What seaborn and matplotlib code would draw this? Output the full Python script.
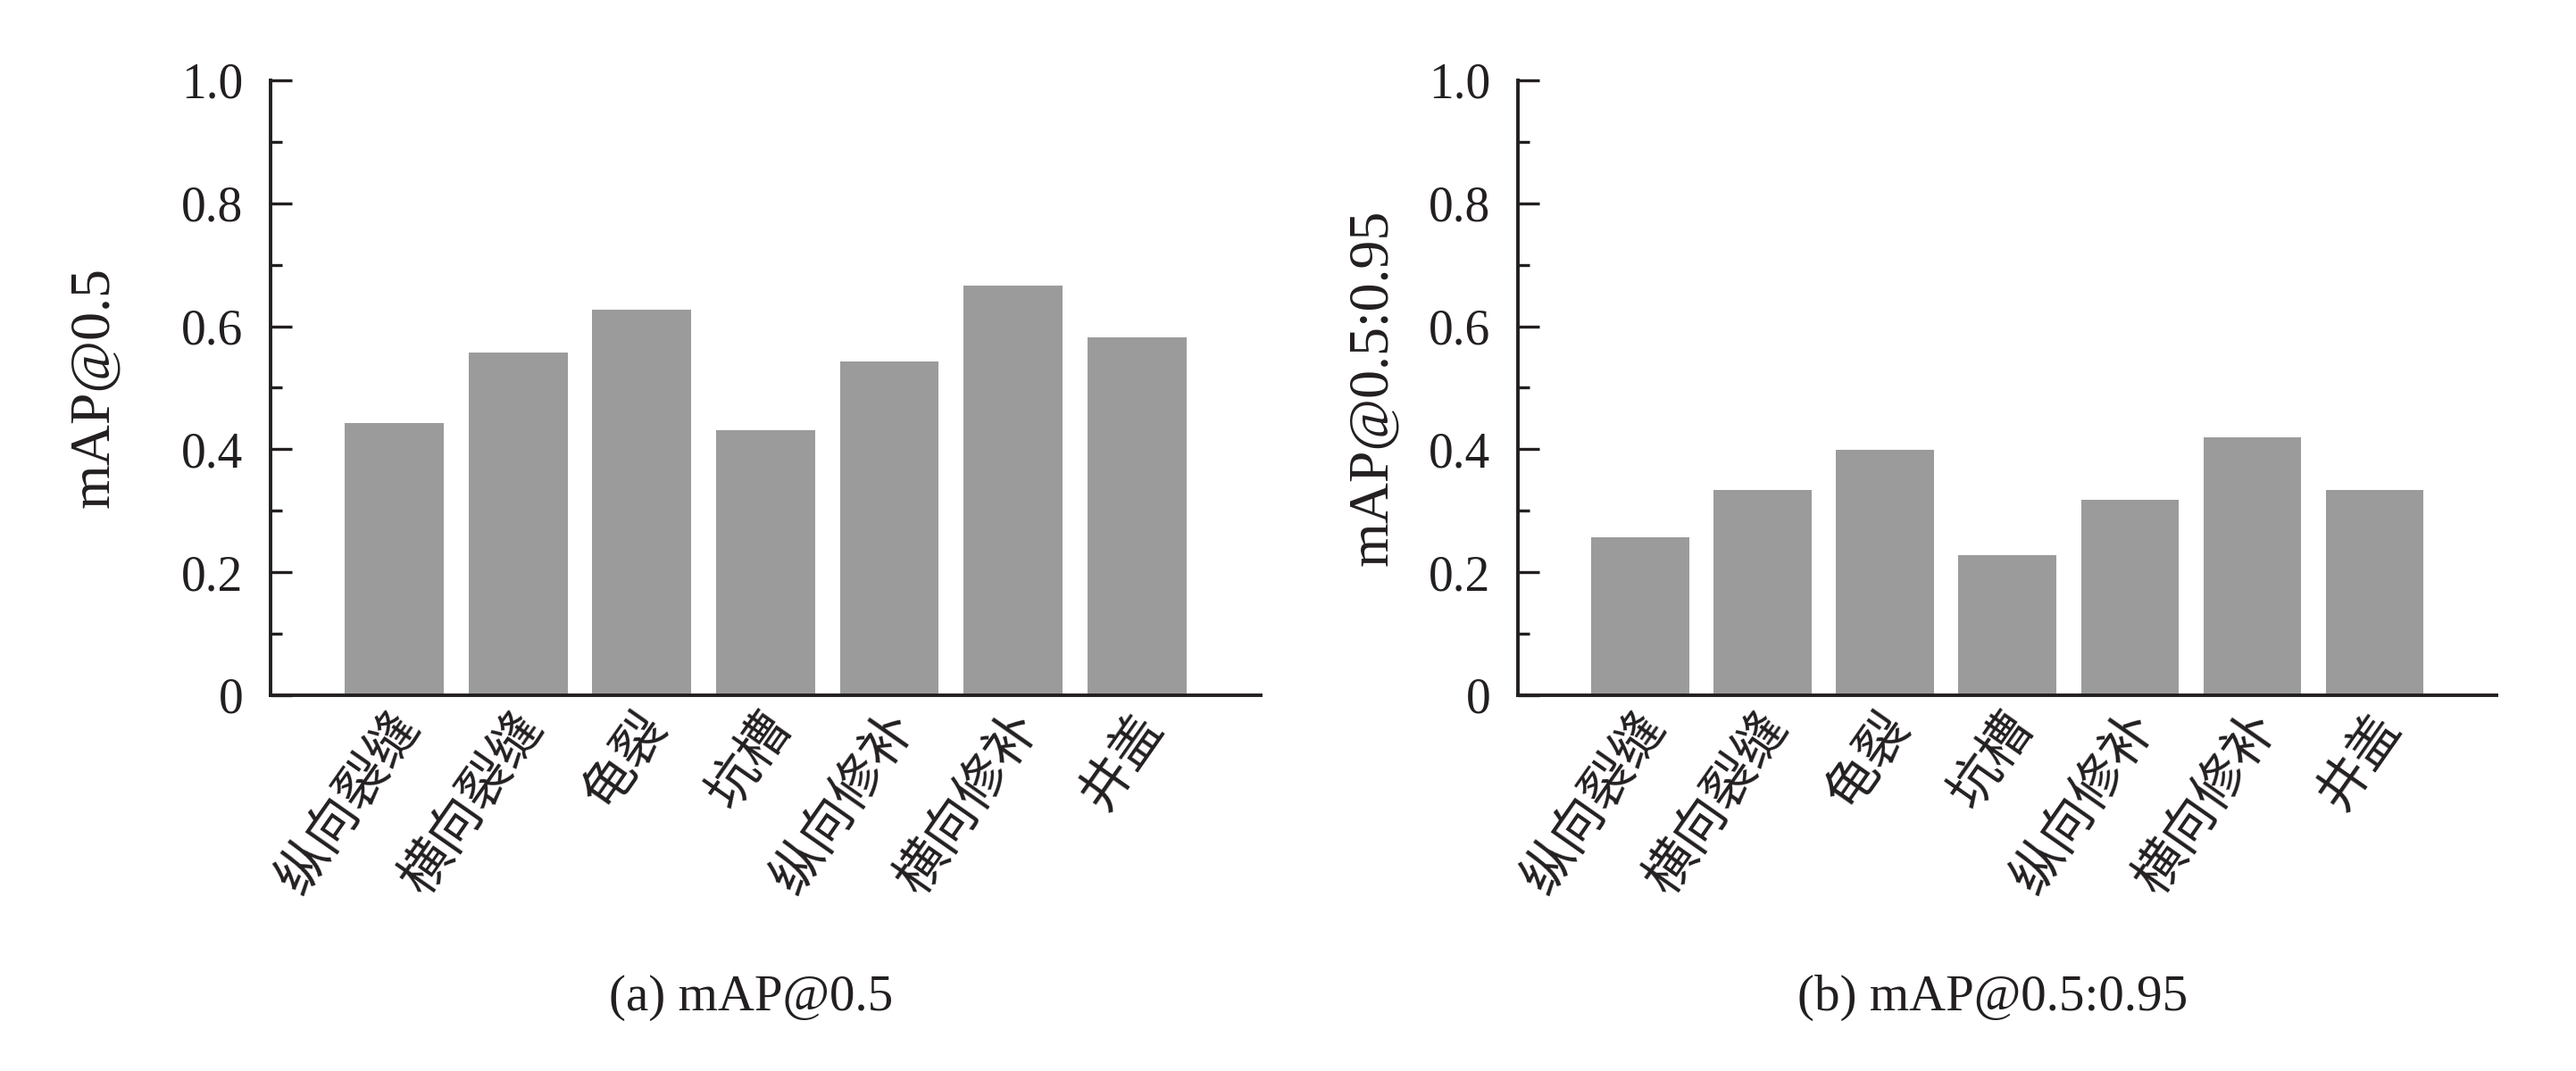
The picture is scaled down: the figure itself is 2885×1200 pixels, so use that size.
import numpy as np
import pandas as pd
import matplotlib
matplotlib.use('Agg')
import matplotlib.pyplot as plt
from matplotlib.ticker import MultipleLocator, FixedLocator
from matplotlib.transforms import ScaledTranslation
import seaborn as sns

sns.set_style('ticks')
plt.rcParams['font.family'] = ['Liberation Serif', 'Noto Sans CJK SC', 'DejaVu Sans']

# data
categories = ['纵向裂缝', '横向裂缝', '龟裂', '坑槽', '纵向修补', '横向修补', '井盖']
map50 = [0.442, 0.557, 0.627, 0.431, 0.543, 0.666, 0.582]
map50_95 = [0.257, 0.333, 0.399, 0.228, 0.317, 0.419, 0.334]
ylabels = ['mAP@0.5', 'mAP@0.5:0.95']
captions = ['(a) mAP@0.5', '(b) mAP@0.5:0.95']
ytick_labels = ['0', '0.2', '0.4', '0.6', '0.8', '1.0']

bar_color = '#9b9b9b'
ink = '#231f20'

fig = plt.figure(figsize=(28.85, 12), dpi=100)
ax1 = fig.add_axes([0.105, 0.351, 0.3844, 0.574])
ax2 = fig.add_axes([0.5893, 0.351, 0.380, 0.574])


def draw(ax, values, ylabel, caption, label_x, cap_x):
    df = pd.DataFrame({'cat': categories, 'val': values})
    sns.barplot(data=df, x='cat', y='val', color=bar_color, saturation=1,
                width=0.8, ax=ax, edgecolor='none')
    ax.set_xlim(-1, 7)
    ax.set_ylim(0, 1.0)
    sns.despine(ax=ax)
    for s in ['left', 'bottom']:
        ax.spines[s].set_linewidth(2.8)
        ax.spines[s].set_color(ink)
    ax.yaxis.set_major_locator(FixedLocator([0, 0.2, 0.4, 0.6, 0.8, 1.0]))
    ax.set_yticklabels(ytick_labels)
    ax.yaxis.set_minor_locator(MultipleLocator(0.1))
    ax.tick_params(axis='y', which='major', direction='in', length=17, width=2.4,
                   pad=22, labelsize=40, colors=ink)
    ax.tick_params(axis='y', which='minor', direction='in', length=9, width=2.4,
                   colors=ink)
    ax.tick_params(axis='x', length=0, pad=19, labelsize=42, colors=ink)
    offset = ScaledTranslation(12 / 72, 0, fig.dpi_scale_trans)
    for lab in ax.get_xticklabels():
        lab.set_rotation(55)
        lab.set_ha('right')
        lab.set_va('center')
        lab.set_rotation_mode('anchor')
        lab.set_transform(lab.get_transform() + offset)
    ax.set_xlabel('')
    ax.set_ylabel(ylabel, fontsize=46, color=ink)
    ax.yaxis.set_label_coords(label_x, 0.5)
    fig.text(cap_x, 1 - 1132 / 1200, caption, ha='center', va='baseline',
             fontsize=41, color=ink)


draw(ax1, map50, ylabels[0], captions[0], -0.151, 841 / 2885)
draw(ax2, map50_95, ylabels[1], captions[1], -0.121, 2232 / 2885)

fig.savefig('out.png', dpi=100, facecolor='white')
